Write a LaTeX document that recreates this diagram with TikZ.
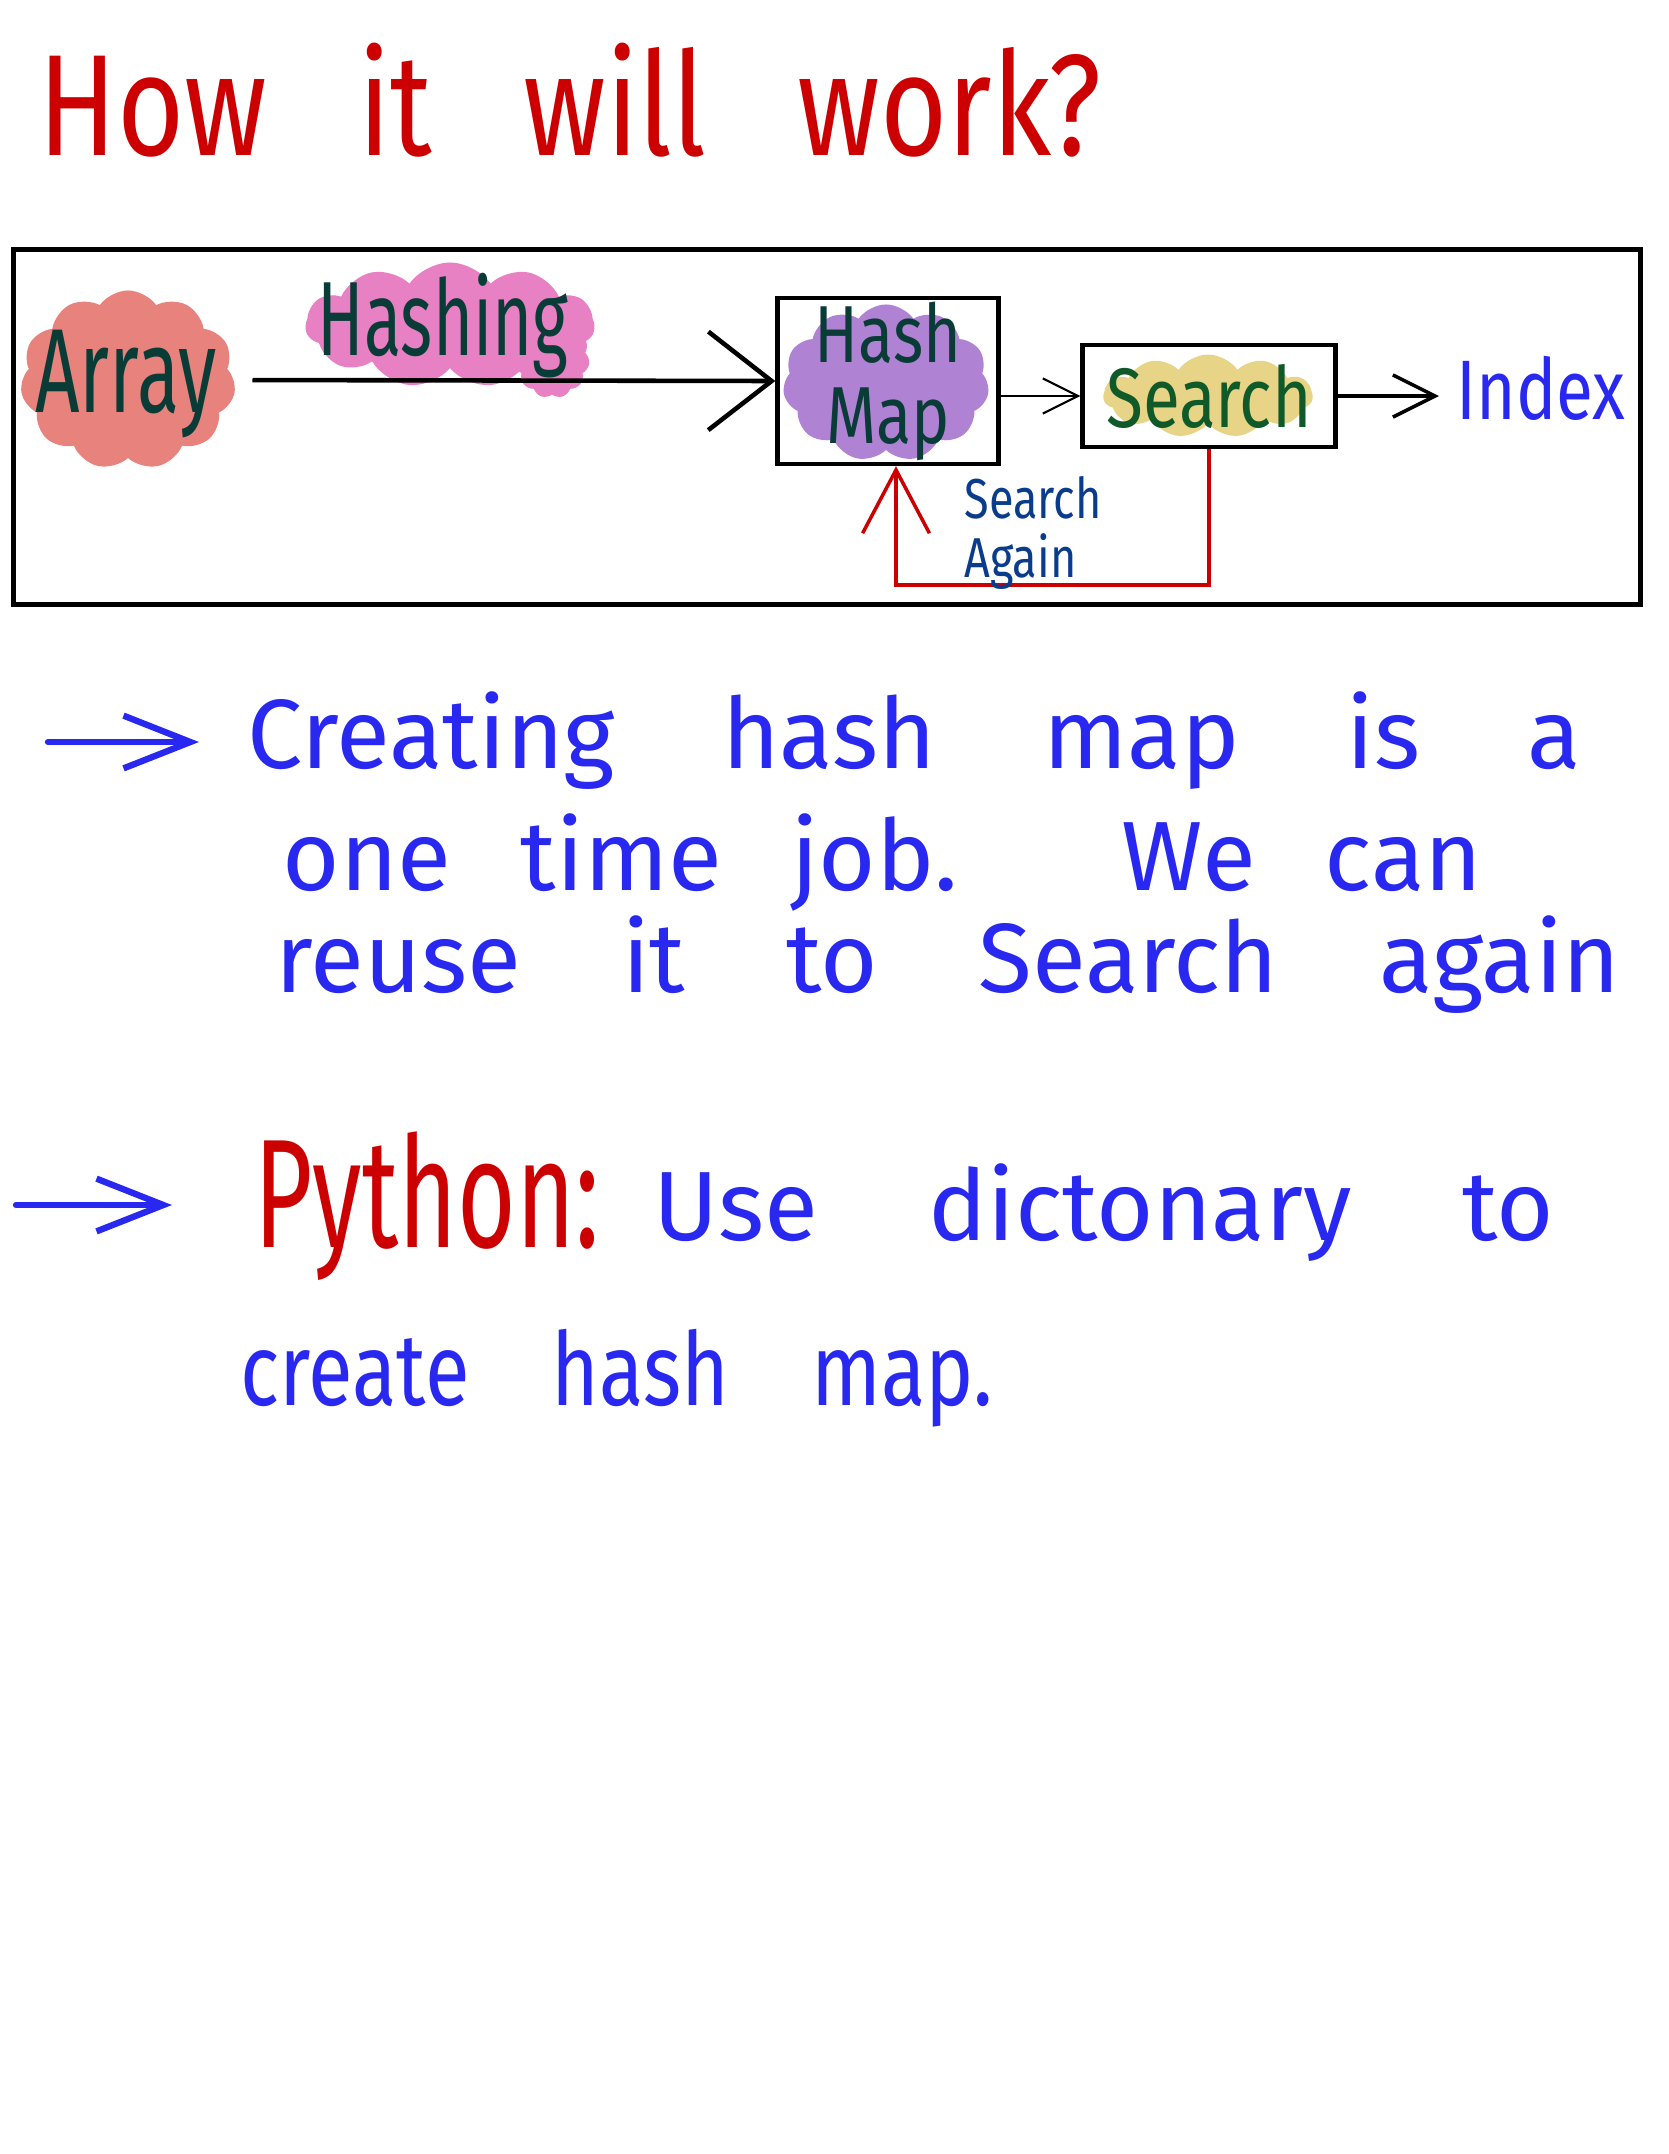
\documentclass[tikz,border=0pt]{standalone}
\usepackage{fontspec}
\usepackage{xcolor}
\usepackage{graphicx}
\usetikzlibrary{positioning, arrows.meta, shapes.symbols}
\newfontfamily\handwide{Fira Sans}
\newfontfamily\hand[FakeStretch=0.8]{Fira Sans}
\newfontfamily\handnarrow[FakeStretch=0.65]{Fira Sans}
\definecolor{inkred}{RGB}{204,0,0}
\definecolor{inkblue}{RGB}{40,40,240}
\definecolor{inkteal}{RGB}{10,60,55}
\definecolor{inkgreen}{RGB}{15,90,40}
\definecolor{inknavy}{RGB}{10,60,140}
\definecolor{blobsalmon}{RGB}{232,130,125}
\definecolor{blobpink}{RGB}{232,128,196}
\definecolor{blobpurple}{RGB}{176,130,212}
\definecolor{blobyellow}{RGB}{232,212,135}
\newcommand\Fs[1]{\fontsize{#1}{#1}\selectfont}
\newcommand\Spread[2]{\makebox[#1][s]{#2}}

\begin{document}
\begin{tikzpicture}[x=0.01cm, y=-0.01cm,
    blob/.style={cloud, cloud puffs=11, cloud puff arc=110, cloud ignores aspect, inner sep=0pt},
    boxnode/.style={draw, line width=1.2pt, inner sep=0pt},
    handline/.style={anchor=base west, inner sep=0pt, text=inkblue, font=\handwide\Fs{28}},
    bigarrow/.style={line width=1.3pt, -{Straight Barb[length=18pt,width=28pt]}},
    thinarrow/.style={line width=0.6pt, -{Straight Barb[length=10pt,width=10pt]}},
    inkarrow/.style={inkblue, line width=1.8pt, line cap=round, -{Straight Barb[length=19pt,width=15pt]}}]
  \useasboundingbox (0,0) rectangle (1668,2154);

  % title
  \node[anchor=base west, inner sep=0pt, text=inkred, font=\hand\Fs{41}] (title) at (38,155)
    {\Spread{10.62cm}{How it will work?}};

  % the frame round the diagram
  \node[draw, line width=1.5pt, minimum width=16.26cm, minimum height=3.55cm, inner sep=0pt] (frame) at (827,427) {};

  % highlighter blobs first, so the lines go over them
  \node[blob, fill=blobsalmon, minimum width=2.15cm, minimum height=1.79cm] (arrayblob) at (128,380) {};
  \node[blob, fill=blobpink, minimum width=2.89cm, minimum height=1.25cm] (hashingblob) at (450,325) {};
  \node[blob, fill=blobpink, minimum width=0.75cm, minimum height=0.8cm] (hashingtail) at (552,358) {};
  \node[blob, fill=blobpurple, minimum width=2.06cm, minimum height=1.57cm] (hashmapblob) at (886,383) {};
  \node[blob, fill=blobyellow, minimum width=2.09cm, minimum height=0.83cm] (searchblob) at (1208,396) {};

  % boxes
  \node[boxnode, minimum width=2.21cm, minimum height=1.66cm, align=center, text=inkteal,
        font=\hand\fontsize{23}{23}\selectfont] (hashmap) at (888,381) {Hash\\Map};
  \node[boxnode, minimum width=2.53cm, minimum height=1.02cm, text=inkgreen, font=\hand\Fs{24}] (search) at (1209,396) {Search};

  % connectors
  \draw[bigarrow, shorten <=0.18cm] (arrayblob.east) -- (hashmap.west);
  \draw[thinarrow] (hashmap.east |- search) -- (search.west);
  \draw[line width=1pt, -{Straight Barb[length=12pt,width=12pt]}, shorten >=0.17cm] (search.east) -- (search.east -| 1456,0);
  \coordinate (loopbot) at (0,585);
  \coordinate (loopup) at ([xshift=0.08cm]hashmap.south);
  \draw[inkred, line width=1pt, -{Straight Barb[length=18pt,width=19pt]}]
    (search.south) -- (search.south |- loopbot) -| (loopup);

  % labels
  \node[anchor=base, inner sep=0pt, text=inkteal, font=\handnarrow\Fs{34}] (array) at (126,412) {Array};
  \node[anchor=base, inner sep=0pt, text=inkteal, font=\handnarrow\Fs{30}] (hashing) at (443,355) {Hashing};
  \node[anchor=base west, inner sep=0pt, text=inkblue, font=\hand\Fs{24}] (index) at (1456,419) {Index};
  \node[align=left, inner sep=0pt, text=inknavy, font=\hand\fontsize{16}{17}\selectfont] (again) at (1033,533) {Search\\Again};

  % notes below
  \node[handline] (line1) at (247,768) {\Spread{13.33cm}{Creating hash map is a}};
  \node[handline] (line2) at (282,890) {\Spread{11.99cm}{one time job. We can}};
  \node[handline] (line3) at (275,992) {\Spread{13.44cm}{reuse it to Search again}};
  \node[anchor=base west, inner sep=0pt, text=inkred, font=\handnarrow\Fs{44}] (python) at (254,1247) {Python:};
  \node[handline] (line4) at (653,1240) {\Spread{9.0cm}{Use dictonary to}};
  \node[handline, font=\hand\Fs{29}] (line5) at (240,1405) {\Spread{7.52cm}{create hash map.}};

  \coordinate (ptr1) at (48,742);
  \coordinate (ptr2) at (16,1205);
  \draw[inkarrow, shorten >=0.48cm] (ptr1) -- (ptr1 -| line1.west);
  \draw[inkarrow, shorten >=0.82cm] (ptr2) -- (ptr2 -| python.west);
\end{tikzpicture}
\end{document}
